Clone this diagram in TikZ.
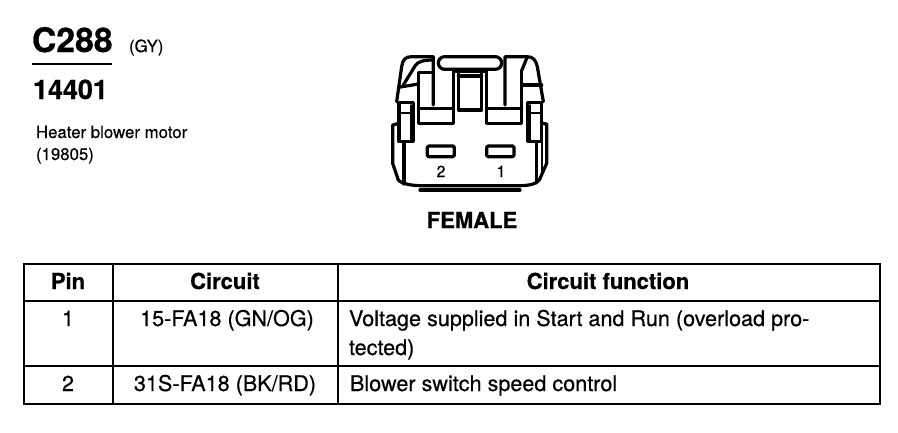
\documentclass[tikz,border=0pt]{standalone}
\usepackage{fontspec}
\setmainfont{TeX Gyre Heros}[FakeBold=0.4,BoldFeatures={FakeBold=0.7}]
\newcommand{\fs}[2]{\fontsize{#1}{#2}\selectfont}
\tikzset{
  x=0.75pt,y=-0.75pt,
  txt/.style={inner sep=0pt,outer sep=0pt,text=black},
  lbl/.style={txt,anchor=base west},
  ctr/.style={txt,anchor=base},
  rule/.style={line width=2.2pt,black},
  conn/.style={line width=2.4pt,black,line join=round,line cap=round},
  connthin/.style={line width=1.3pt,black,line join=round,line cap=round},
}
\begin{document}
\begin{tikzpicture}
\useasboundingbox (0,0) rectangle (898,432);
\fill[white] (0,0) rectangle (898,432);
% header text
\node[lbl] (code) at (32,52) {\fs{25.3}{28}\bfseries C288};
\node[lbl] (colour) at (129,52) {\fs{12.6}{14}(GY)};
\draw[line width=1.3pt] (32,64) -- (112,64);
\node[lbl] (part) at (33,99) {\fs{20.2}{22}\bfseries 14401};
\node[lbl] (desc1) at (36,138) {\fs{12.6}{14}Heater blower motor};
\node[lbl] (desc2) at (36,160) {\fs{12.6}{14}(19805)};
% connector, in 3x zoom coordinates
\begin{scope}[shift={(370,40)},x=0.25pt,y=-0.25pt]
  % outer shell top
  \draw[conn] (190,195) -- (190,50) -- (125,50) .. controls (105,50) and (98,60) .. (95,80) -- (80,185);
  \draw[conn] (405,195) -- (405,50) -- (470,50) .. controls (490,50) and (497,60) .. (502,80) -- (520,185);
  % inner slants
  \draw[conn] (100,135) -- (135,78) .. controls (142,65) and (160,60) .. (190,60);
  \draw[conn] (85,142) -- (145,132);
  \draw[conn] (455,92) -- (472,50);
  \draw[conn] (457,135) -- (515,135);
  % top pill
  \draw[conn,rounded corners=4.7pt] (205,50) rectangle (395,88);
  % centre T
  \draw[line width=3.2pt,black] (250,94) -- (350,94);
  \draw[conn] (265,100) -- (265,210) -- (335,210) -- (335,100);
  \draw[conn] (265,108) -- (335,108);
  \draw[conn] (250,94) -- (250,250) -- (145,250) -- (145,97) -- (190,97);
  \draw[conn] (145,205) -- (250,205);
  \draw[conn] (350,94) -- (350,250) -- (455,250) -- (455,92);
  \draw[conn] (350,205) -- (455,205);
  % side tabs
  \draw[conn] (87,188) rectangle (130,305);
  \draw[conn] (472,188) rectangle (515,305);
  \draw[connthin] (87,220) -- (122,220) (122,195) -- (122,300);
  \draw[connthin] (480,220) -- (515,220) (480,195) -- (480,300);
  % lower shell
  \draw[conn] (87,250) -- (68,255) -- (68,370) -- (85,420) .. controls (95,432) and (130,437) .. (150,437) -- (450,437) .. controls (475,437) and (500,432) .. (508,420) -- (530,370) -- (530,252) -- (515,250);
  \draw[conn] (150,450) -- (450,450);
  \draw[conn] (102,305) -- (102,432);
  \draw[conn] (500,305) -- (500,428);
  \draw[connthin] (515,305) -- (515,395);
  % slots
  \draw[conn,rounded corners=1pt] (172,318) rectangle (253,350);
  \draw[conn,rounded corners=1pt] (350,318) rectangle (432,350);
\end{scope}
\node[ctr] (two) at (441,177) {\fs{12}{14}2};
\node[ctr] (one) at (501,177) {\fs{12}{14}1};
\node[ctr] (gender) at (472,228) {\fs{16.5}{18}\bfseries FEMALE};
% table
\draw[rule] (24,264) rectangle (880,404);
\draw[rule] (113,264) -- (113,404);
\draw[rule] (338,264) -- (338,404);
\draw[rule] (24,301) -- (880,301);
\draw[rule] (24,366) -- (880,366);
\node[ctr] (hpin) at (68,289) {\fs{16.5}{18}\bfseries Pin};
\node[ctr] (hcirc) at (225,289) {\fs{16.5}{18}\bfseries Circuit};
\node[ctr] (hfunc) at (608,289) {\fs{16.5}{18}\bfseries Circuit function};
\node[ctr] (p1) at (68,326) {\fs{16.2}{18}1};
\node[ctr] (c1) at (227,326) {\fs{16.2}{18}15-FA18 (GN/OG)};
\node[lbl] (f1a) at (349,326) {\fs{16.2}{18}Voltage supplied in Start and Run (overload pro-};
\node[lbl] (f1b) at (349,355) {\fs{16.2}{18}tected)};
\node[ctr] (p2) at (68,391) {\fs{16.2}{18}2};
\node[ctr] (c2) at (225,391) {\fs{16.2}{18}31S-FA18 (BK/RD)};
\node[lbl] (f2) at (350,391) {\fs{16.2}{18}Blower switch speed control};
\end{tikzpicture}
\end{document}
